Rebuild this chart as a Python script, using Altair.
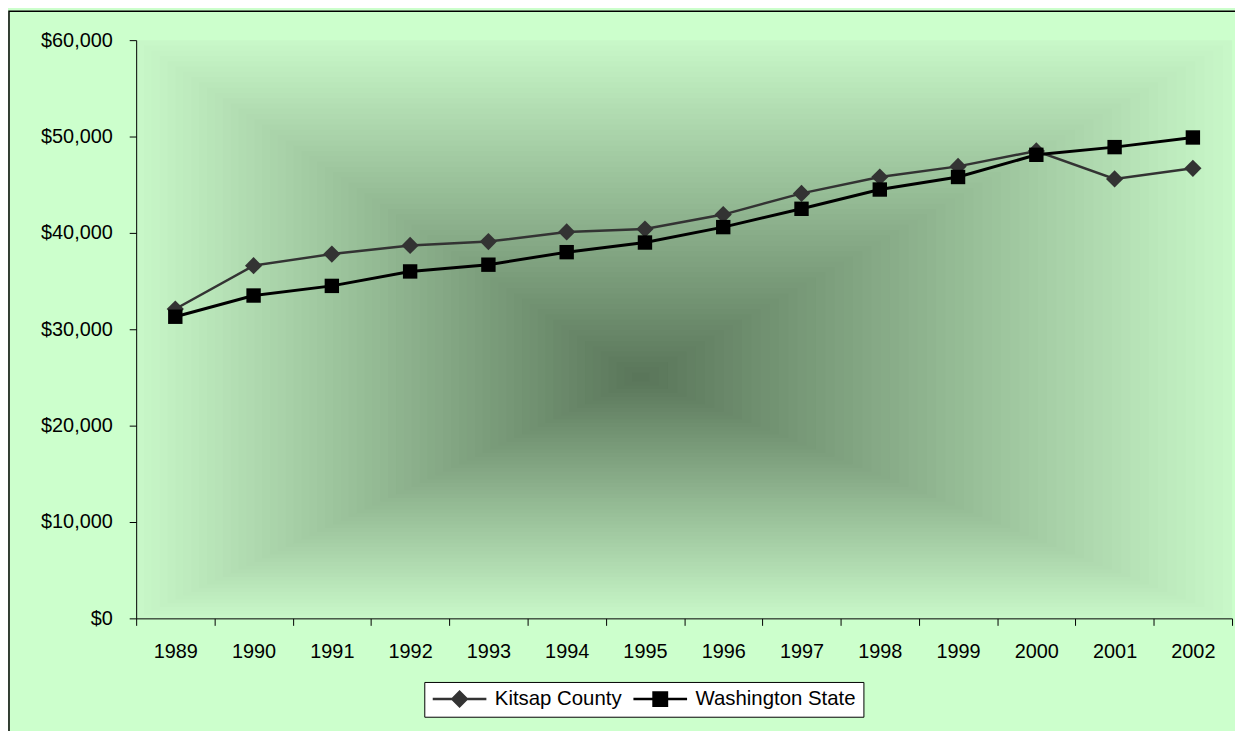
import altair as alt
import pandas as pd

years = [str(y) for y in range(1989, 2003)]
kitsap = [32100, 36600, 37800, 38700, 39100, 40100, 40400, 41900, 44100, 45800, 46900, 48500, 45600, 46700]
washington = [31300, 33500, 34500, 36000, 36700, 38000, 39000, 40600, 42500, 44500, 45800, 48100, 48900, 49900]
series_names = ["Kitsap County", "Washington State"]
y_ticks = [0, 10000, 20000, 30000, 40000, 50000, 60000]

rows = []
for i, yr in enumerate(years):
    rows.append({"year": yr, "series": series_names[0], "value": kitsap[i]})
    rows.append({"year": yr, "series": series_names[1], "value": washington[i]})
df = pd.DataFrame(rows)

FONT = "Liberation Sans"
W, H = 1103, 582

# ---- plot-area "from center" rectangular gradient (nested rectangles) ----
N = 64
cx, cy = 0.46, 0.416
edge = (200, 247, 200)
center = (90, 118, 90)
bg_rows = []
for i in range(N):
    f = 1 - i / N
    t = i / (N - 1)
    col = "#%02x%02x%02x" % tuple(round(e + (c - e) * t) for e, c in zip(edge, center))
    bg_rows.append({"x0": cx - cx * f, "x1": cx + (1 - cx) * f,
                    "y0": cy - cy * f, "y1": cy + (1 - cy) * f, "c": col})
bg = pd.DataFrame(bg_rows)

background = alt.Chart(bg).mark_rect(strokeWidth=0).encode(
    x=alt.X("x0:Q", scale=alt.Scale(domain=[0, 1], nice=False, zero=False), axis=None),
    x2="x1",
    y=alt.Y("y0:Q", scale=alt.Scale(domain=[0, 1], nice=False, zero=False), axis=None),
    y2="y1",
    color=alt.Color("c:N", scale=None),
)

border = alt.Chart(pd.DataFrame({"a": [0]})).mark_rect(
    filled=False, stroke="black", strokeWidth=1.5
).encode(
    x=alt.value(-128), x2=alt.value(W + 60),
    y=alt.value(-29), y2=alt.value(H + 200),
)

# ---- data layers ----
X = alt.X(
    "year:O",
    scale=alt.Scale(type="band", paddingInner=0, paddingOuter=0, domain=years),
    bandPosition=0.5,
    axis=alt.Axis(title=None, tickBand="extent", tickSize=7, labelPadding=16, labelAngle=0,
                  labelFont=FONT, labelFontSize=20, labelColor="black",
                  domainColor="black", tickColor="black", grid=False, zindex=2),
)
Y = alt.Y(
    "value:Q",
    scale=alt.Scale(domain=[0, 60000], nice=False),
    axis=alt.Axis(title=None, values=y_ticks, format="$,.0f", tickSize=7, labelPadding=17,
                  labelFont=FONT, labelFontSize=20, labelColor="black",
                  domainColor="black", tickColor="black", grid=False, zindex=2),
)

k_df = df[df.series == series_names[0]]
w_df = df[df.series == series_names[1]]

k_line = alt.Chart(k_df).mark_line(color="#333333", strokeWidth=2.5).encode(x=X, y=Y)
w_line = alt.Chart(w_df).mark_line(color="#000000", strokeWidth=3).encode(x=X, y=Y)
k_pts = alt.Chart(k_df).mark_point(shape="diamond", filled=True, color="#333333",
                                   size=300, opacity=1).encode(x=X, y=Y)
w_pts = alt.Chart(w_df).mark_point(shape="square", filled=True, color="#000000",
                                   size=210, opacity=1).encode(x=X, y=Y)

path_k = "M-1,0L1,0M-0.27,0L0,-0.27L0.27,0L0,0.27Z"
path_w = "M-1,0L1,0M-0.25,-0.25L0.25,-0.25L0.25,0.25L-0.25,0.25Z"

legend = alt.Legend(
    title=None, orient="none", legendX=290, legendY=646, direction="horizontal",
    fillColor="white", strokeColor="black", padding=7, clipHeight=20,
    symbolSize=2916, symbolStrokeWidth=2.5, symbolOpacity=1,
    labelFont=FONT, labelFontSize=20.5, labelColor="black", labelOffset=7,
    labelLimit=400, columnPadding=10, zindex=3,
)

series_colors = ["#333333", "#000000"]
legend_layer = alt.Chart(df).mark_point(filled=True, opacity=0).encode(
    x=X, y=Y,
    fill=alt.Fill("series:N", scale=alt.Scale(domain=series_names, range=series_colors),
                  legend=legend),
    stroke=alt.Stroke("series:N", scale=alt.Scale(domain=series_names, range=series_colors),
                      legend=legend),
    shape=alt.Shape("series:N", scale=alt.Scale(domain=series_names, range=[path_k, path_w]),
                    legend=legend),
)

data_layers = alt.layer(k_line, w_line, k_pts, w_pts, legend_layer)

chart = alt.layer(border, background, data_layers).resolve_scale(
    x="independent", y="independent"
).properties(
    width=W, height=H,
    background="#CCFFCC",
    autosize=alt.AutoSizeParams(type="none"),
    padding={"left": 129, "top": 30, "right": 3, "bottom": 111},
).configure_view(stroke=None)

chart.save("out.html", embed_options={"renderer": "svg", "actions": False})
